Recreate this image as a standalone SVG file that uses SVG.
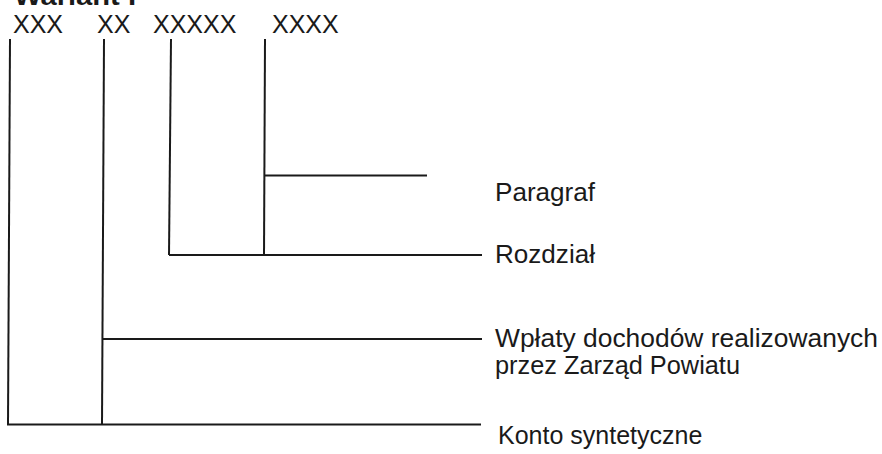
<svg xmlns="http://www.w3.org/2000/svg" width="882" height="454" viewBox="0 0 882 454">
<style>
.t{font-family:"Liberation Sans",Arial,sans-serif;font-size:25px;fill:#1a1a1a}
.h{font-family:"Liberation Sans",Arial,sans-serif;font-size:25px;font-weight:bold;fill:#1a1a1a}
.c line{stroke:#1a1a1a;stroke-width:2;stroke-linecap:butt}
</style>
<rect width="882" height="454" fill="#fff"/>
<g id="title"><text class="h" x="14" y="5" textLength="122" lengthAdjust="spacingAndGlyphs">Wariant I</text></g>
<g id="code-xxx"><text class="t" x="13" y="33">XXX</text></g>
<g id="code-xx"><text class="t" x="97" y="33">XX</text></g>
<g id="code-xxxxx"><text class="t" x="153" y="33">XXXXX</text></g>
<g id="code-xxxx"><text class="t" x="272" y="33">XXXX</text></g>
<g id="paragraf"><text class="t" x="495" y="201" textLength="100" lengthAdjust="spacingAndGlyphs">Paragraf</text></g>
<g id="rozdzial"><text class="t" x="495" y="263" textLength="100" lengthAdjust="spacingAndGlyphs">Rozdział</text></g>
<g id="wplaty"><text class="t" x="495" y="347" textLength="383" lengthAdjust="spacingAndGlyphs">Wpłaty dochodów realizowanych</text><text class="t" x="495" y="374" textLength="245" lengthAdjust="spacingAndGlyphs">przez Zarząd Powiatu</text></g>
<g id="konto"><text class="t" x="498" y="444">Konto syntetyczne</text></g>
<g id="connectors" class="c">
<line x1="10" y1="39" x2="8" y2="425"/>
<line x1="104" y1="39" x2="102" y2="425"/>
<line x1="171" y1="39" x2="169" y2="255"/>
<line x1="265" y1="39" x2="264" y2="255"/>
<line x1="264" y1="175.5" x2="427" y2="175.5"/>
<line x1="169" y1="255" x2="482" y2="255"/>
<line x1="102" y1="339" x2="482" y2="339"/>
<line x1="7" y1="424.5" x2="481" y2="424.5"/>
</g>
</svg>
